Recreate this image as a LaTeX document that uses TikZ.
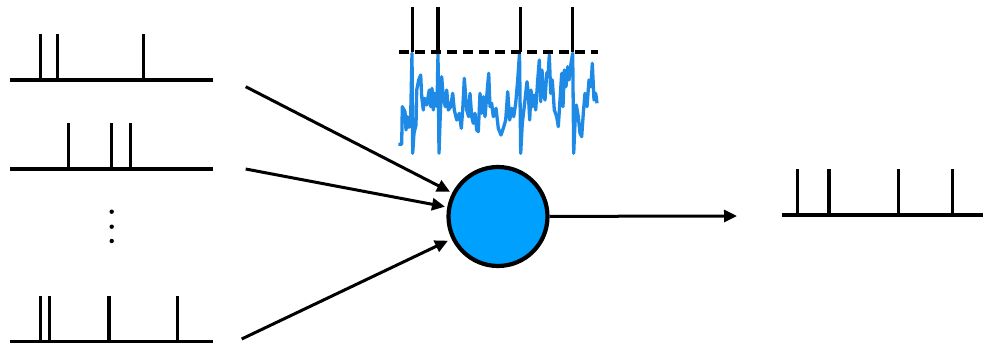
\documentclass[tikz,border=0pt]{standalone}
\usetikzlibrary{arrows.meta}
\definecolor{neuronblue}{RGB}{0,160,255}
\definecolor{traceblue}{RGB}{30,138,230}
\tikzset{
  train/.style={line width=3.4pt},
  conn/.style={line width=3pt,-{Triangle[length=13pt,width=12pt]}},
  trace/.style={traceblue,line width=3.3pt,line join=round},
  thresh/.style={line width=3.3pt,dash pattern=on 10pt off 6pt},
  neuronstyle/.style={circle,draw=black,line width=4.2pt,fill=neuronblue,minimum size=99pt,inner sep=0pt}
}
\begin{document}
\begin{tikzpicture}[x=1pt,y=-1pt]
\useasboundingbox (0,0) rectangle (983,345);
% input spike trains
\draw[train] (10,80) -- (213,80);
\foreach \s in {40.7,57.7,143.7} \draw[train] (\s,80) -- (\s,34);
\draw[train] (10,169) -- (213,169);
\foreach \s in {68.3,111.7,130.3} \draw[train] (\s,169) -- (\s,123);
\draw[train] (10,341.5) -- (213,341.5);
\foreach \s in {40.7,49.3,109,177.3} \draw[train] (\s,341.5) -- (\s,296);
% dots
\foreach \d in {211.7,226.7,241} \fill (111.7,\d) circle (2.2);
% neuron
\node[neuronstyle] (neuron) at (498,216.5) {};
% input connectors
\coordinate (in1) at (245.7,86.7);
\coordinate (in2) at (245.7,169);
\coordinate (in3) at (241.7,339);
\coordinate (t1) at (450,191.7);
\coordinate (t2) at (445,206.7);
\coordinate (t3) at (448,240.7);
\draw[conn] (in1) -- (t1);
\draw[conn] (in2) -- (t2);
\draw[conn] (in3) -- (t3);
% output connector
\coordinate (out) at (737,216);
\draw[conn] (neuron) -- (out);
% output spike train
\draw[train] (782,215) -- (983,215);
\foreach \s in {797.7,829,898.7,952.7} \draw[train] (\s,215) -- (\s,169.3);
% noisy membrane trace
\draw[trace] (398.3,144.3) -- (401.7,144.3) -- (402.3,106.7) -- (405,111.7) -- (406,130) -- (407.3,116.7) -- (409,127.3) -- (410.7,115) -- (412,53.3) -- (412.7,153.3) -- (414,133.3) -- (416,125) -- (416.7,90) -- (418.7,80) -- (420.7,75) -- (421.7,96.7) -- (423.3,110) -- (424.3,98.3) -- (425.7,100) -- (426.7,105) -- (428,97.3) -- (429.3,90) -- (430.7,106.7) -- (432,88.3) -- (433.3,110) -- (434.7,93.3) -- (435.7,101.7) -- (437,106.7) -- (438,53.3) -- (439,153.3) -- (440,123.3) -- (441.7,76.7) -- (443.3,98.3) -- (445.3,106.7) -- (446.7,90) -- (448.3,110) -- (450.7,106.7) -- (452.7,93.3) -- (454.3,110) -- (456.7,120) -- (459.3,113.3) -- (461.3,128.3) -- (462.7,110) -- (464.3,78.3) -- (466.7,110) -- (468.7,116.7) -- (470,93.3) -- (471.7,116.7) -- (473.3,123.3) -- (475,113.3) -- (476.7,130) -- (478.3,131.7) -- (480,93.3) -- (481.7,113.3) -- (483.3,96.7) -- (485,116.7) -- (486.7,96.7) -- (488.7,73.3) -- (490,106.7) -- (491.7,103.3) -- (493.3,116.7) -- (496,108.3) -- (498.3,128.3) -- (501,135) -- (503.3,128.3) -- (505.7,120) -- (507.7,91.7) -- (509.7,120) -- (511.7,108.3) -- (513.7,116.7) -- (515.7,103.3) -- (517.7,80) -- (519.5,53.3) -- (520.7,153.3) -- (522.3,123.3) -- (525,100) -- (527,81.7) -- (528.3,93.3) -- (529.7,120) -- (531,90) -- (532.3,106.7) -- (534,95) -- (535.7,110) -- (537.7,80) -- (539.3,60) -- (540.7,101.7) -- (542,70) -- (543.3,93.3) -- (545,100) -- (546.7,73.3) -- (548.3,71.7) -- (549.3,55) -- (550.7,93.3) -- (552.3,80) -- (554.3,110) -- (556.7,116.7) -- (558.3,126.7) -- (560,100) -- (561.7,73.3) -- (563,106.7) -- (564.3,70) -- (566,86.7) -- (567.7,66.7) -- (569,80) -- (571,63.3) -- (572.7,53.3) -- (573.7,153.3) -- (575,123.3) -- (576.3,105) -- (578.3,116.7) -- (580,133.3) -- (581.7,136.7) -- (583.3,113.3) -- (585,93.3) -- (587,106.7) -- (589,80) -- (591,86.7) -- (592.3,63.3) -- (594,100) -- (595.7,93.3) -- (597,103.3);
% threshold and spikes
\draw[thresh] (399,52) -- (598,52);
\foreach \s in {412.3,438,520.3,572.7} \draw[train] (\s,52) -- (\s,7);
\end{tikzpicture}
\end{document}
